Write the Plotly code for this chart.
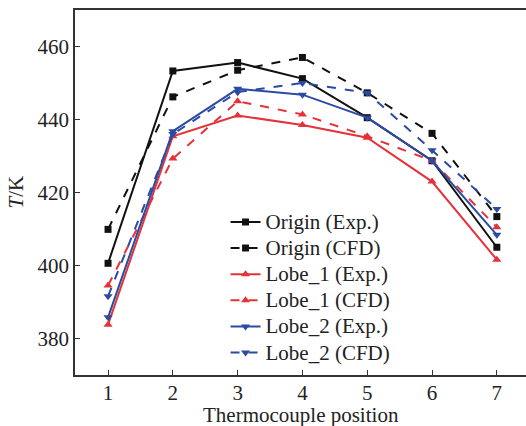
import plotly.graph_objects as go

positions = [1, 2, 3, 4, 5, 6, 7]
origin_exp = [400.6, 453.3, 455.6, 451.2, 440.5, 428.7, 405.0]
origin_cfd = [409.9, 446.2, 453.5, 457.0, 447.3, 436.2, 413.4]
lobe1_exp = [383.8, 435.4, 441.1, 438.5, 435.0, 423.0, 401.6]
lobe1_cfd = [394.5, 429.3, 445.0, 441.4, 435.4, 428.7, 410.5]
lobe2_exp = [385.8, 436.8, 448.4, 446.8, 440.5, 428.7, 408.4]
lobe2_cfd = [391.6, 436.0, 447.5, 450.0, 447.3, 431.6, 415.5]

BLACK = "#111111"
RED = "#e53238"
BLUE = "#2b4ba3"

series = [
    ("Origin (Exp.)", origin_exp, BLACK, "solid", "square", 7),
    ("Origin (CFD)", origin_cfd, BLACK, "dash", "square", 7),
    ("Lobe_1 (Exp.)", lobe1_exp, RED, "solid", "triangle-up", 8),
    ("Lobe_1 (CFD)", lobe1_cfd, RED, "dash", "triangle-up", 8),
    ("Lobe_2 (Exp.)", lobe2_exp, BLUE, "solid", "triangle-down", 8),
    ("Lobe_2 (CFD)", lobe2_cfd, BLUE, "dash", "triangle-down", 8),
]

fig = go.Figure()
for name, vals, color, dash, sym, size in series:
    fig.add_trace(go.Scatter(
        x=positions, y=vals, mode="lines+markers",
        name='<span style="font-size:21px">' + name + "</span>",
        line=dict(color=color, width=2, dash=dash),
        marker=dict(symbol=sym, size=size, color=color),
    ))

font = "Liberation Serif, Times New Roman, serif"
fig.update_layout(
    width=526, height=426,
    margin=dict(l=75, r=0, t=10, b=51, autoexpand=False),
    plot_bgcolor="white", paper_bgcolor="white",
    font=dict(family=font, size=21, color="#222222"),
    showlegend=True,
    legend=dict(x=0.3338, y=0.469, xanchor="left", yanchor="top",
                bgcolor="rgba(0,0,0,0)", font=dict(size=17.8),
                tracegroupgap=0),
    xaxis=dict(range=[0.49, 7.45], tickvals=positions, ticktext=[str(p) for p in positions],
               ticks="inside", ticklen=5, tickcolor="#333", showline=True, linecolor="#333",
               linewidth=1.5, mirror=True, showgrid=False, zeroline=False, automargin=False,
               tickfont=dict(size=21), ticklabelstandoff=-2),
    yaxis=dict(range=[370, 470], tickvals=[380, 400, 420, 440, 460],
               ticks="inside", ticklen=5, tickcolor="#333", showline=True, linecolor="#333",
               linewidth=1.5, mirror=False, showgrid=False, zeroline=False, automargin=False,
               tickfont=dict(size=21)),
    annotations=[
        dict(text="Thermocouple position", xref="paper", yref="paper", x=0.501, y=0,
             xanchor="center", yanchor="middle", yshift=-40, showarrow=False,
             font=dict(size=21)),
        dict(text="<i>T</i>/K", xref="paper", yref="paper", x=0, y=0.5,
             xanchor="center", yanchor="middle", xshift=-60, textangle=-90,
             showarrow=False, font=dict(size=21)),
    ],
)

fig.write_html("out.html", config={"displayModeBar": False},
               post_script="document.body.style.margin='0';document.body.style.padding='0';")
